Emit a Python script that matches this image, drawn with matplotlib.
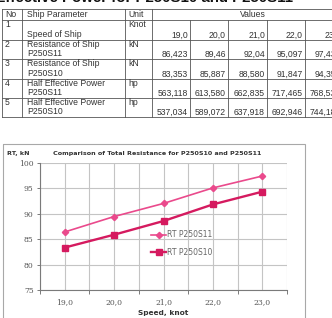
import matplotlib.pyplot as plt
from matplotlib.patches import Rectangle

# table / chart data
speed_txt = ['19,0', '20,0', '21,0', '22,0', '23,0']
rt_s11_txt = ['86,423', '89,46', '92,04', '95,097', '97,435']
rt_s10_txt = ['83,353', '85,887', '88,580', '91,847', '94,356']
ehp_s11_txt = ['563,118', '613,580', '662,835', '717,465', '768,534']
ehp_s10_txt = ['537,034', '589,072', '637,918', '692,946', '744,183']

row_no = ['1', '2', '3', '4', '5']
row_param = [('', 'Speed of Ship'),
             ('Resistance of Ship', 'P250S11'),
             ('Resistance of Ship', 'P250S10'),
             ('Half Effective Power', 'P250S11'),
             ('Half Effective Power', 'P250S10')]
row_unit = ['Knot', 'kN', 'kN', 'hp', 'hp']
row_vals = [speed_txt, rt_s11_txt, rt_s10_txt, ehp_s11_txt, ehp_s10_txt]

def num(lst):
    return [float(s.replace(',', '.')) for s in lst]

speeds = num(speed_txt)
rt_s11 = num(rt_s11_txt)
rt_s10 = num(rt_s10_txt)

W, H = 332, 318
fig = plt.figure(figsize=(W / 100, H / 100), dpi=100)
fig.patch.set_facecolor('white')

# overlay in pixel coords for the page bits (heading, table, chart frame)
pg = fig.add_axes([0, 0, 1, 1])
pg.set_xlim(0, W)
pg.set_ylim(H, 0)
pg.axis('off')

tc = '#333333'
fs = 6.2
# heading of the page, mostly cut off at the top edge
pg.text(293, 1.5, 'Half Effective Power for P250S10 and P250S11', ha='right',
        va='baseline', fontsize=10.8, fontweight='bold', family='Liberation Sans',
        color='#111111')

# table grid
col_x = [2, 22, 125, 152, 190, 228, 267, 305, 343]
row_y = [9, 20, 40, 59, 79, 98, 117]
lc = '#555555'
for y in row_y:
    pg.plot([col_x[0], 345], [y, y], color=lc, lw=0.6)
for i, x in enumerate(col_x):
    y0 = row_y[0] if i <= 3 else row_y[1]
    pg.plot([x, x], [y0, row_y[-1]], color=lc, lw=0.6)

kw = dict(fontsize=fs, family='Liberation Sans', color=tc)
pg.text(5, 14.5, 'No', va='center', **kw)
pg.text(27, 14.5, 'Ship Parameter', va='center', **kw)
pg.text(128, 14.5, 'Unit', va='center', **kw)
pg.text(253, 14.5, 'Values', va='center', ha='center', **kw)
for r in range(5):
    top, bot = row_y[r + 1], row_y[r + 2]
    pg.text(5, top + 4.5, row_no[r], va='center', **kw)
    l1, l2 = row_param[r]
    if l1:
        pg.text(27, top + 4.5, l1, va='center', **kw)
    pg.text(27, bot - 5.5, l2, va='center', **kw)
    pg.text(128, top + 4.5, row_unit[r], va='center', **kw)
    for c, v in enumerate(row_vals[r]):
        pg.text(col_x[c + 4] - 2, bot - 5, v, va='center', ha='right', **kw)

# chart frame
pg.add_patch(Rectangle((3, 144), 302, 200, fill=False, ec='#a8a8a8', lw=0.8))

# chart
ax = fig.add_axes([40 / W, 1 - 290 / H, 247 / W, 127 / H])
c11 = '#ea4a8c'
c10 = '#d51a5f'
ax.plot(speeds, rt_s11, color=c11, marker='D', ms=3.2, lw=1.2, label='RT P250S11', zorder=3)
ax.plot(speeds, rt_s10, color=c10, marker='s', ms=5, lw=1.7, label='RT P250S10', zorder=3)

ax.set_xlim(18.5, 23.5)
ax.set_ylim(75, 100)
ax.set_yticks([75, 80, 85, 90, 95, 100])
ax.set_xticks(speeds)
ax.set_xticklabels(speed_txt)
ax.set_xticks([18.5, 19.5, 20.5, 21.5, 22.5, 23.5], minor=True)
ax.grid(True, which='both', axis='x', color='#c4c4c4', lw=0.8)
ax.grid(True, which='major', axis='y', color='#c4c4c4', lw=0.8)
ax.set_axisbelow(True)
for s in ['top', 'right']:
    ax.spines[s].set_visible(False)
for s in ['left', 'bottom']:
    ax.spines[s].set_color('#7a7a7a')
    ax.spines[s].set_linewidth(0.8)
ax.tick_params(axis='y', length=2.5, width=0.7, color='#7a7a7a', pad=2,
               labelsize=5.5, labelcolor='#555555')
ax.tick_params(axis='x', which='major', length=0, pad=6, labelsize=5.5,
               labelcolor='#555555')
ax.tick_params(axis='x', which='minor', length=3, width=0.7, color='#7a7a7a')
for t in ax.get_xticklabels() + ax.get_yticklabels():
    t.set_family('DejaVu Serif')

leg = ax.legend(loc='upper left', bbox_to_anchor=(0.45, 0.47), frameon=False,
                fontsize=5.5, handlelength=2.0, handletextpad=0.1,
                labelspacing=1.1, borderpad=0, borderaxespad=0)
for t in leg.get_texts():
    t.set_color('#666666')

fig.text(157 / W, 1 - 153 / H, 'Comparison of Total Resistance for P250S10 and P250S11',
         ha='center', va='center', fontsize=4.6, fontweight='bold', color='#333333')
fig.text(7 / W, 1 - 154 / H, 'RT, kN', ha='left', va='center', fontsize=4.6,
         fontweight='bold', color='#333333')
fig.text(163 / W, 1 - 313 / H, 'Speed, knot', ha='center', va='center',
         fontsize=5.3, fontweight='bold', color='#333333')

fig.savefig('out.png', dpi=100)
